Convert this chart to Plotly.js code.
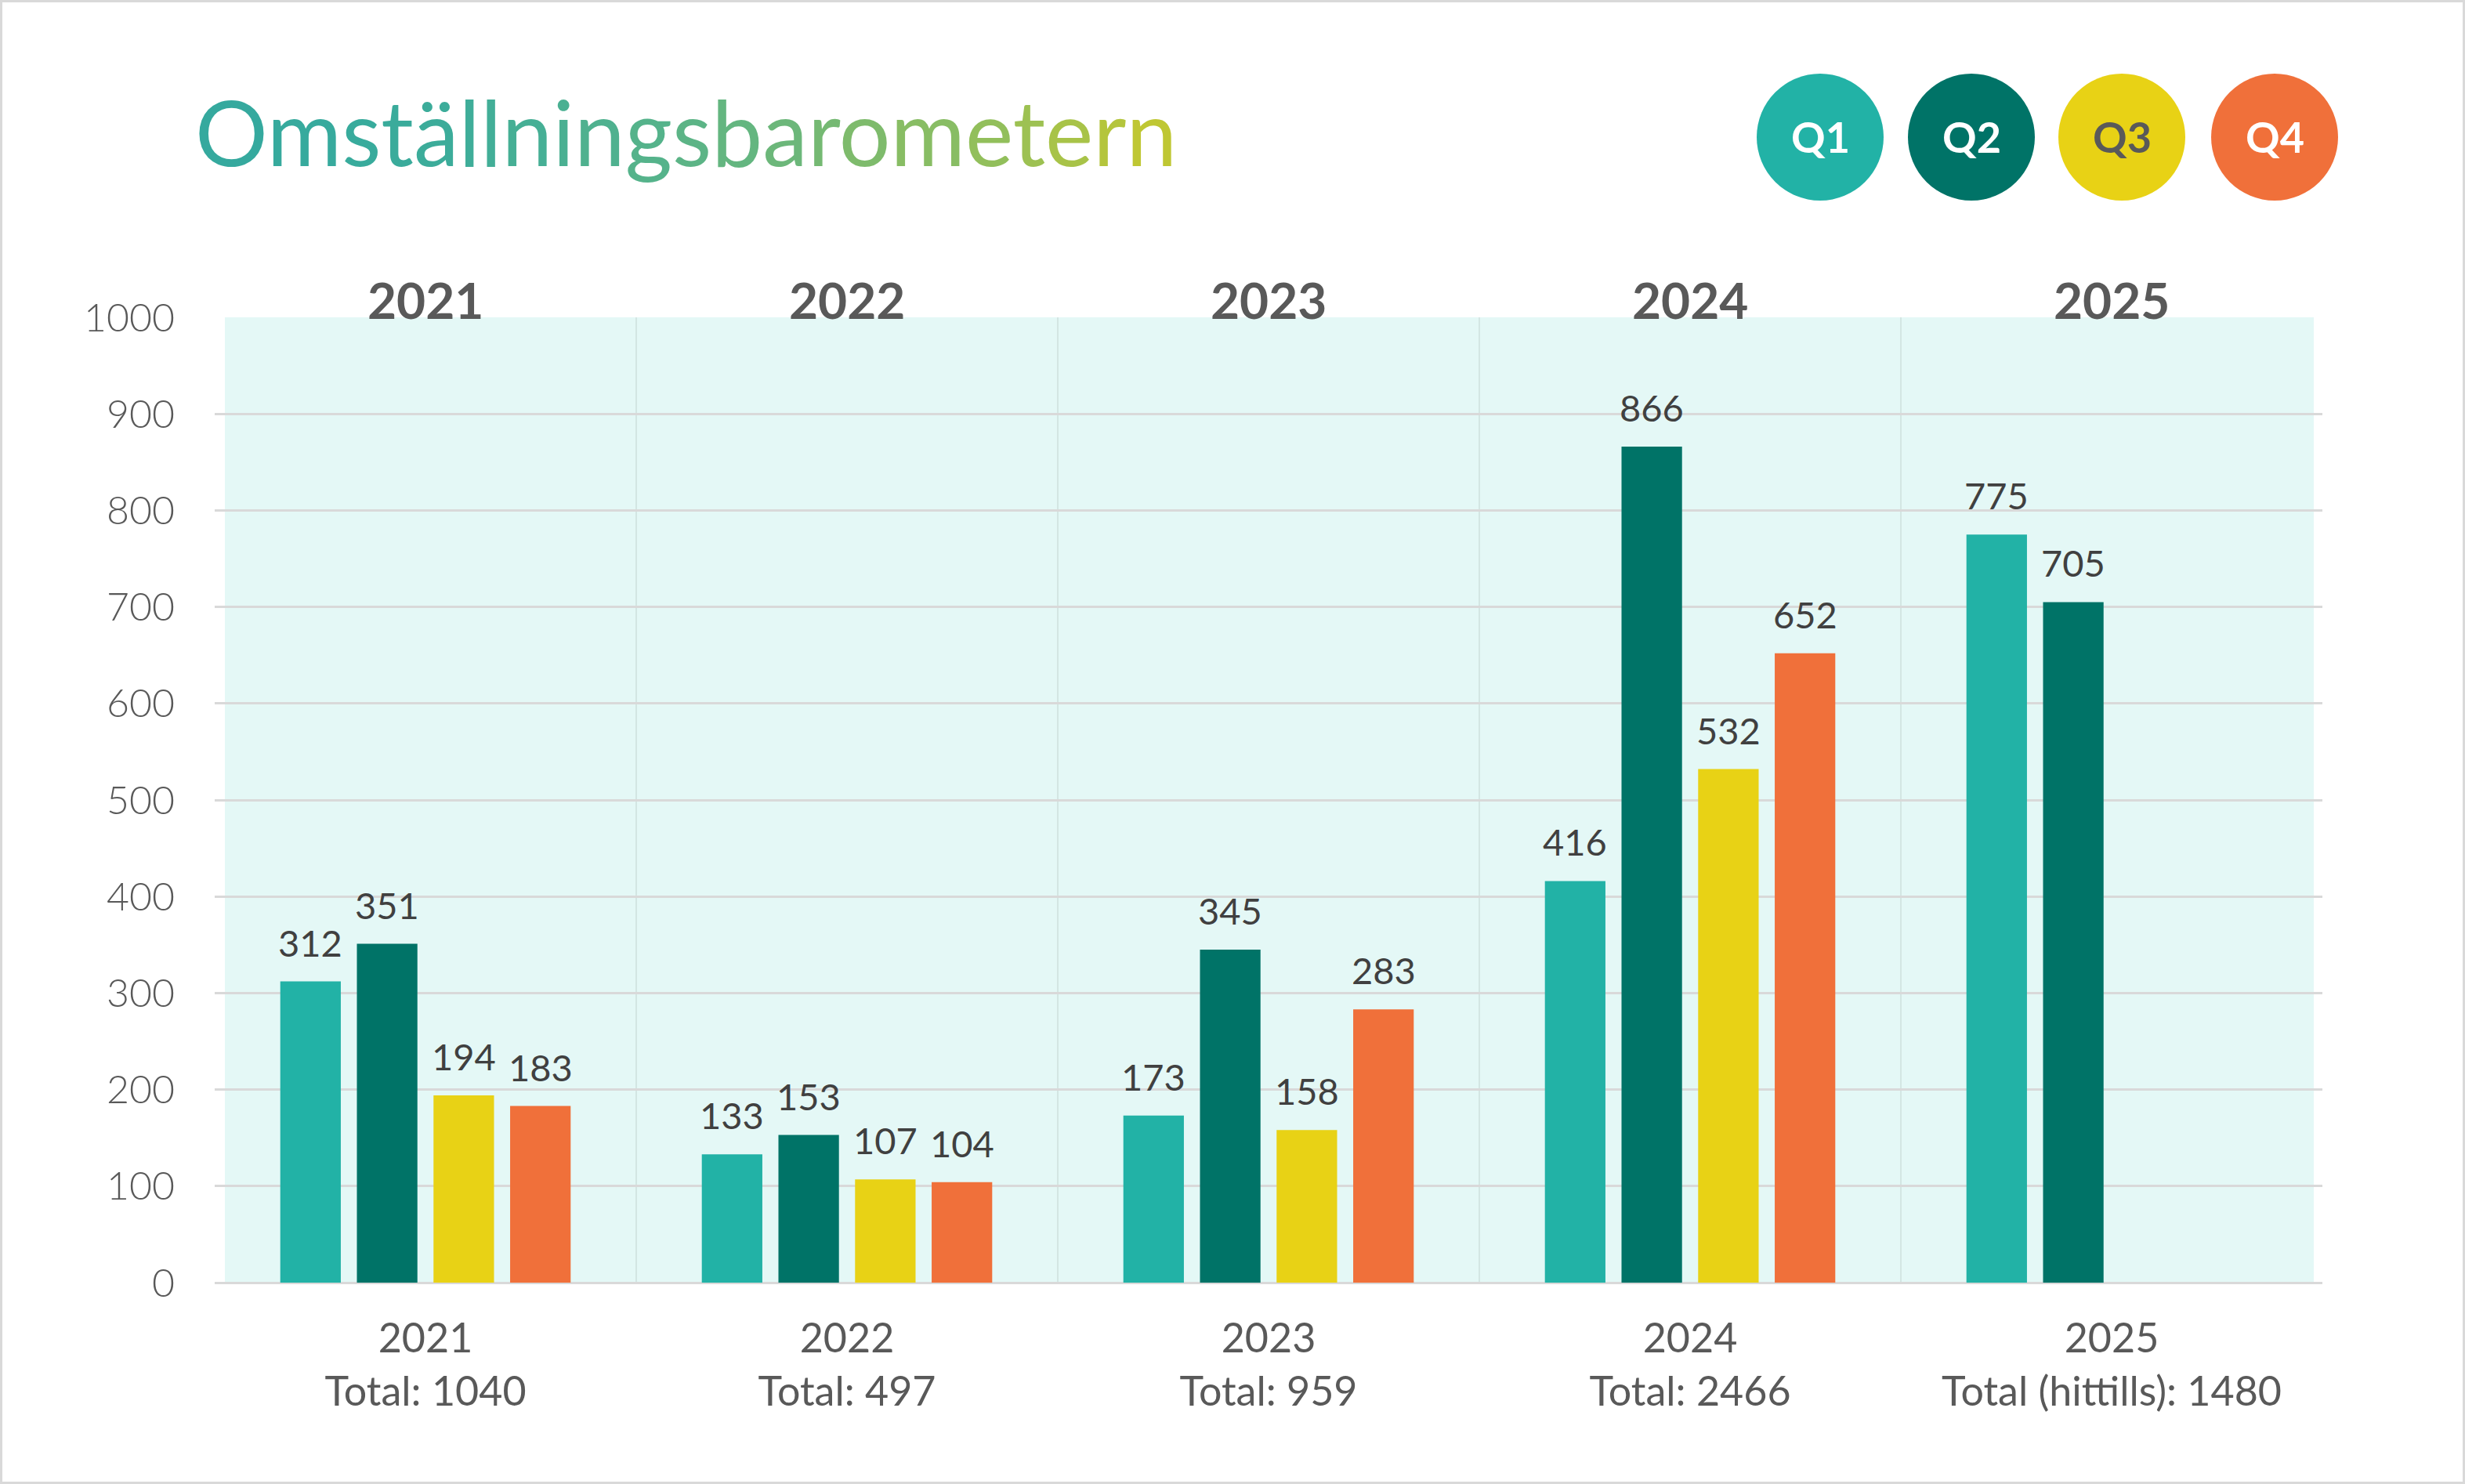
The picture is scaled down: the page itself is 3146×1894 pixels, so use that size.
<!DOCTYPE html>
<html>
<head>
<meta charset="utf-8">
<script src="https://cdn.plot.ly/plotly-3.0.1.min.js"></script>
<style>
  html, body { margin: 0; padding: 0; background: #ffffff; }
  #wrap { position: relative; width: 3146px; height: 1894px; }
  #chart { width: 3146px; height: 1894px; }
  #frame { position: absolute; left: 0; top: 0; width: 3146px; height: 1894px; box-sizing: border-box; border: 3px solid #D9D9D9; pointer-events: none; }
</style>
</head>
<body>
<div id="wrap"><div id="chart"></div><div id="frame"></div></div>
<script>
// ---- data ----
const years = ['2021', '2022', '2023', '2024', '2025'];
const totalLabels = ['Total: 1040', 'Total: 497', 'Total: 959', 'Total: 2466', 'Total (hittills): 1480'];
const quarters = ['Q1', 'Q2', 'Q3', 'Q4'];
const q1 = [312, 133, 173, 416, 775];
const q2 = [351, 153, 345, 866, 705];
const q3 = [194, 107, 158, 532, null];
const q4 = [183, 104, 283, 652, null];
const titleText = 'Omställningsbarometern';

// ---- styles ----
const seriesColors = ['#22B2A6', '#007367', '#E8D215', '#F0703A'];
const legendTextColors = ['#FFFFFF', '#FFFFFF', '#595959', '#FFFFFF'];
const titleColors = ['#35A99E','#37AA9D','#38AB9C','#3AAB9B','#3CAC9A','#3FAD99','#42AE97','#46AF95','#4AB092','#4FB18F','#55B38B',
                     '#5CB486','#64B680','#6CB77A','#75B973','#7EBB6C','#88BD64','#92BF5B','#9DC152','#A8C348','#B4C53D','#BFC733'];
const W = 3146, H = 1894;
const M = {l: 274, r: 182, t: 405, b: 257};
const bargap = 0.273, bargroupgap = 0.21;
const font = 'Lato, "Open Sans", "Noto Sans", sans-serif';

const series = [q1, q2, q3, q4];
const traces = series.map((vals, i) => ({
  type: 'bar',
  name: quarters[i],
  x: years,
  y: vals,
  marker: {color: seriesColors[i], line: {width: 0}},
  hoverinfo: 'x+y+name'
}));

// pixel geometry for data-label offsets within group
const plotW = W - M.l - M.r;
const plotH = H - M.t - M.b;
const catW = plotW / years.length;
const slotW = catW * (1 - bargap) / quarters.length;

const annotations = [];
// value labels (x given as category index)
series.forEach((vals, i) => {
  vals.forEach((v, j) => {
    if (v === null) return;
    annotations.push({
      x: j, y: v, xref: 'x', yref: 'y',
      text: String(v), showarrow: false,
      xanchor: 'center', yanchor: 'bottom',
      xshift: (i - (quarters.length - 1) / 2) * slotW,
      yshift: 20,
      font: {family: font, size: 47, color: '#404040'}
    });
  });
});
// year headers above plot
years.forEach((y, j) => {
  annotations.push({
    x: j, y: 1, xref: 'x', yref: 'paper',
    text: '<b>' + y + '</b>', showarrow: false,
    xanchor: 'center', yanchor: 'bottom', yshift: -18,
    font: {family: font, size: 64, color: '#595959'}
  });
});
// title (gradient per letter)
const titleHtml = titleText.split('').map((ch, k) => '<span style="color:' + titleColors[k] + '">' + ch + '</span>').join('');
annotations.push({
  x: (247 - M.l) / plotW, y: (H - M.b - 168) / plotH,
  xref: 'paper', yref: 'paper', xanchor: 'left', yanchor: 'middle',
  text: titleHtml, showarrow: false,
  font: {family: font, size: 116, color: '#35A99E'}
});

// legend circles
const legendCx = [2323, 2516, 2708, 2903];
const legendCy = 175;
const shapes = [{
  type: 'rect', xref: 'paper', yref: 'paper', layer: 'below',
  x0: (287 - M.l) / plotW, x1: (2953 - M.l) / plotW, y0: 0, y1: 1,
  fillcolor: '#E4F8F6', line: {width: 0}
}];
quarters.forEach((q, i) => {
  const xp = (legendCx[i] - M.l) / plotW;
  const yp = (H - M.b - legendCy) / plotH;
  shapes.push({
    type: 'circle', xref: 'paper', yref: 'paper',
    xsizemode: 'pixel', ysizemode: 'pixel', xanchor: xp, yanchor: yp,
    x0: -81, x1: 81, y0: -81, y1: 81,
    fillcolor: seriesColors[i], line: {width: 0}
  });
  annotations.push({
    x: xp, y: yp, xref: 'paper', yref: 'paper', showarrow: false,
    xanchor: 'center', yanchor: 'middle',
    text: '<b>' + q + '</b>',
    font: {family: font, size: 54, color: legendTextColors[i]}
  });
});

const layout = {
  width: W, height: H,
  margin: M,
  paper_bgcolor: '#FFFFFF',
  plot_bgcolor: 'rgba(0,0,0,0)',
  barmode: 'group',
  bargap: bargap,
  bargroupgap: bargroupgap,
  showlegend: false,
  font: {family: font, color: '#595959'},
  xaxis: {
    type: 'category',
    categoryorder: 'array', categoryarray: years,
    range: [-0.5, years.length - 0.5], autorange: false,
    tickvals: years,
    ticktext: years.map((y, j) => y + '<br>' + totalLabels[j]),
    tickfont: {family: font, size: 52, color: '#595959'},
    tickangle: 0,
    showgrid: true, tickson: 'boundaries',
    gridcolor: '#D3E6E3', gridwidth: 2,
    ticks: '', showline: false, zeroline: false,
    ticklabelstandoff: 36
  },
  yaxis: {
    range: [0, 1000], autorange: false, dtick: 100,
    tickfont: {family: font, size: 50, color: '#595959', weight: 300},
    gridcolor: '#D9D9D9', gridwidth: 3,
    zeroline: true, zerolinecolor: '#D9D9D9', zerolinewidth: 3,
    showline: false, ticks: '',
    ticklabelstandoff: 50
  },
  annotations: annotations,
  shapes: shapes
};

Plotly.newPlot('chart', traces, layout, {displayModeBar: false, staticPlot: true});
</script>
</body>
</html>
